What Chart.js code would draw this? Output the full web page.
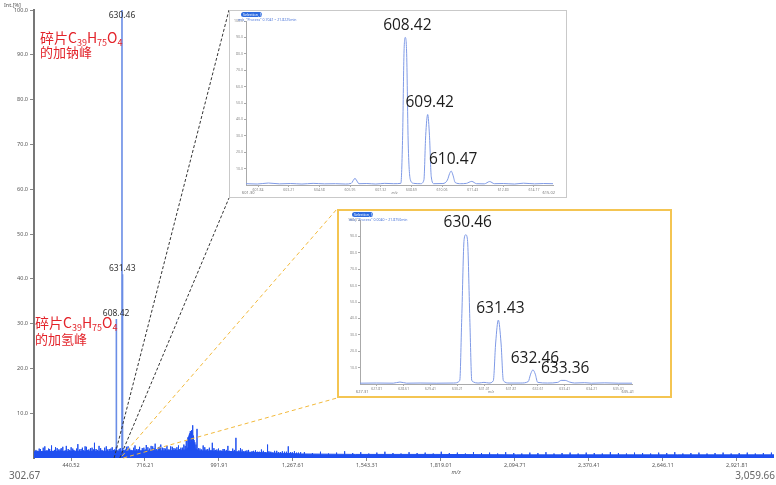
<!DOCTYPE html>
<html>
<head>
<meta charset="utf-8">
<script src="https://cdn.jsdelivr.net/npm/chart.js@4.4.1/dist/chart.umd.min.js"></script>
<style>
html, body { margin: 0; padding: 0; background: #fff; }
#wrap { position: relative; width: 776px; height: 485px; overflow: hidden; }
#main { position: absolute; left: 0; top: 0; }
.inset { position: absolute; box-sizing: border-box; background: #fff; }
.inset canvas { display: block; }
</style>
</head>
<body>
<div id="wrap">
  <canvas id="main" width="776" height="485"></canvas>
  <div class="inset" id="box1"><canvas id="ins1"></canvas></div>
  <div class="inset" id="box2"><canvas id="ins2"></canvas></div>
</div>
<script>
// ---- main spectrum ----
const mzRange = [302.67, 3059.66];
const mainXTicks = [440.52, 716.21, 991.91, 1267.61, 1543.31, 1819.01, 2094.71, 2370.41, 2646.11, 2921.81];
const mainYTicks = [10, 20, 30, 40, 50, 60, 70, 80, 90, 100];

const peakMz = [608.42, 609.42, 610.47, 630.46, 631.43, 632.46, 633.36];
const peakInt = [31, 14, 2.6, 100, 41, 8.5, 2];
const peakLabels = ["630.46", "631.43", "608.42"];
const peakLabelInt = [100, 41, 31];

// background noise
const baseMz = [302.67, 400, 500, 600, 700, 800, 870, 880, 888, 896, 903, 920, 1000, 1100, 1200, 1300, 1500, 1800, 2100, 2400, 2700, 3059.66];
const baseInt = [1.4, 1.5, 1.5, 1.5, 1.6, 1.6, 1.8, 2.6, 3.6, 3.8, 2.0, 1.6, 1.5, 1.3, 1.1, 0.9, 0.8, 0.8, 0.7, 0.7, 0.7, 0.7];

const noiseMz = [
  310, 322, 331, 343, 352, 361, 374, 383, 395, 404, 415, 423, 436, 447, 455, 466, 478, 487, 498, 507,
  519, 528, 539, 551, 560, 572, 583, 594, 603, 615, 624, 638, 647, 659, 668, 679, 691, 700, 712, 721,
  733, 745, 754, 766, 775, 787, 798, 806, 818, 829, 841, 850, 861, 870, 876, 881, 885, 888, 891, 894,
  897, 902, 910, 921, 933, 944, 956, 967, 978, 990, 1001, 1012, 1025, 1037, 1049, 1060, 1072, 1084, 1096, 1108,
  1121, 1135, 1150, 1164, 1178, 1192, 1207, 1221, 1236, 1250, 1265, 1281, 1296,
  1310, 1340, 1370, 1400, 1430, 1460, 1490, 1520, 1550, 1580, 1610, 1640, 1670, 1700, 1730, 1760, 1790, 1820, 1850, 1880,
  1910, 1940, 1970, 2000, 2030, 2060, 2090, 2120, 2150, 2180, 2210, 2240, 2270, 2300, 2330, 2360, 2390, 2420, 2450, 2480,
  2510, 2540, 2570, 2600, 2630, 2660, 2690, 2720, 2750, 2780, 2810, 2840, 2870, 2900, 2930, 2960, 2990, 3020, 3050
];
const noiseInt = [
  1.8, 2.1, 1.5, 2.6, 1.7, 2.0, 1.6, 2.4, 1.9, 2.2, 1.5, 2.7, 1.8, 2.1, 1.6, 3.1, 2.0, 1.7, 2.5, 1.9,
  2.3, 3.4, 1.8, 2.2, 1.6, 2.6, 2.0, 2.4, 1.9, 1.7, 2.2, 1.8, 2.5, 2.1, 1.7, 2.8, 2.0, 1.6, 2.3, 2.9,
  2.1, 2.6, 3.2, 2.4, 3.0, 2.2, 2.7, 1.9, 2.5, 2.1, 2.8, 2.3, 3.0, 3.8, 4.6, 5.2, 6.0, 5.4, 6.2, 7.3,
  5.0, 3.5, 6.5, 2.1, 2.8, 1.9, 2.3, 3.4, 1.8, 2.1, 1.6, 2.0, 2.7, 1.5, 1.8, 1.4, 2.2, 1.5, 1.7, 1.3,
  1.6, 1.4, 1.9, 1.3, 1.5, 1.2, 1.6, 1.3, 1.4, 2.6, 1.3, 1.2, 1.3,
  1.3, 1.1, 1.4, 1.0, 1.2, 1.5, 1.1, 1.3, 1.0, 1.2, 1.4, 1.1, 1.0, 1.3, 1.1, 1.2, 1.0, 1.4, 1.1, 1.2,
  1.0, 1.3, 1.1, 1.2, 1.0, 1.3, 1.1, 1.0, 1.2, 1.1, 1.3, 1.0, 1.1, 1.2, 1.0, 1.2, 1.1, 1.0, 1.3, 1.1,
  1.0, 1.2, 1.1, 1.0, 1.2, 1.1, 1.3, 1.0, 1.1, 1.2, 1.0, 1.1, 1.2, 1.0, 1.1, 1.2, 1.0, 1.1, 1.2
];
// second, interleaved set of noise sticks in the busy low-mass region
const noise2Mz = [
  316, 327, 337, 348, 357, 368, 379, 389, 400, 410, 419, 430, 441, 451, 461, 472, 483, 493, 503, 513,
  524, 534, 545, 556, 566, 577, 589, 599, 609, 620, 633, 643, 653, 664, 674, 685, 696, 706, 717, 727,
  739, 750, 760, 770, 781, 792, 802, 812, 824, 835, 846, 856, 866, 879, 883, 899, 906, 916, 927, 939,
  950, 962, 973, 984, 996, 1007, 1019, 1031, 1043, 1055, 1066, 1078, 1090, 1102, 1115, 1128, 1142, 1157, 1171, 1174,
  1185, 1199, 1214, 1228, 1243, 1258, 1273, 1288
];
const noise2Int = [
  1.6, 2.0, 2.3, 1.7, 2.1, 2.8, 1.8, 2.2, 1.9, 2.5, 1.7, 2.0, 2.4, 1.8, 2.1, 1.9, 2.3, 2.6, 1.8, 2.2,
  1.9, 2.0, 2.7, 1.8, 2.3, 1.9, 2.1, 1.8, 2.4, 2.0, 2.2, 1.9, 2.6, 1.8, 2.3, 2.0, 2.5, 2.2, 1.9, 2.4,
  2.7, 2.2, 2.0, 2.5, 2.3, 2.1, 1.9, 2.6, 2.2, 2.4, 2.0, 2.3, 2.7, 4.8, 5.5, 4.0, 3.0, 2.2, 1.9, 2.4,
  2.0, 1.8, 2.2, 1.9, 1.7, 2.0, 1.8, 1.6, 2.1, 4.5, 1.7, 1.9, 1.6, 1.8, 1.5, 1.7, 1.4, 1.6, 3.0, 1.5,
  1.4, 1.6, 1.3, 1.5, 1.4, 1.3, 1.5, 1.2
];

// ---- zoom insets ----
const inset1Range = [601.30, 615.02];
const inset1XTicks = [601.84, 603.21, 604.58, 605.95, 607.32, 608.69, 610.06, 611.43, 612.80, 614.17];
const inset1Mz = [601.30, 601.8, 602.3, 602.8, 603.3, 603.8, 604.3, 604.8, 605.3, 605.75, 606.0, 606.17, 606.35, 606.7, 607.1, 607.5, 607.9, 608.22,
  608.3, 608.36, 608.42, 608.48, 608.55, 608.65, 608.8, 609.1, 609.25, 609.33, 609.42, 609.5, 609.58, 609.7, 610.1, 610.3, 610.4, 610.47,
  610.55, 610.65, 610.9, 611.15, 611.39, 611.6, 611.95, 612.19, 612.4, 612.8, 613.3, 613.7, 614.2, 614.6, 615.02];
const inset1Int = [0.8, 0.6, 1.2, 0.7, 0.9, 0.6, 1.0, 0.7, 0.8, 0.6, 1.0, 4.0, 0.8, 0.9, 0.6, 1.0, 0.8, 1.0,
  30, 80, 90, 80, 25, 3, 1.0, 0.8, 3, 30, 43, 30, 5, 0.8, 0.9, 3, 7, 8.5,
  6, 1.5, 0.8, 1.0, 2.2, 0.8, 0.7, 2.1, 0.8, 0.9, 0.6, 1.1, 0.7, 0.9, 0.8];
const inset1Labels = ["608.42", "609.42", "610.47"];
const inset1LabelInt = [90, 43, 8.5];

const inset2Range = [627.31, 635.41];
const inset2XTicks = [627.81, 628.61, 629.41, 630.21, 631.01, 631.81, 632.61, 633.41, 634.21, 635.01];
const inset2Mz = [627.31, 627.8, 628.3, 628.5, 628.7, 629.1, 629.6, 630.1, 630.28, 630.34, 630.41, 630.46, 630.51, 630.58, 630.64,
  630.85, 631.0, 631.15, 631.28, 631.35, 631.43, 631.51, 631.58, 631.75, 632.1, 632.32, 632.39, 632.46, 632.53, 632.6, 632.9,
  633.2, 633.3, 633.42, 633.55, 633.7, 634.0, 634.2, 634.6, 635.0, 635.41];
const inset2Int = [0.5, 0.6, 0.5, 1.2, 0.5, 0.6, 0.5, 0.6, 2, 40, 88, 91, 88, 40, 2,
  0.6, 1.0, 0.6, 2, 25, 39, 25, 2, 0.6, 0.6, 1.5, 6, 8.6, 6, 1, 0.6,
  1.0, 2.2, 2.2, 1.2, 0.6, 0.8, 0.5, 0.7, 0.5, 0.5];
const inset2Labels = ["630.46", "631.43", "632.46", "633.36"];
const inset2LabelInt = [91, 39, 8.6, 2.2];

const insetYTicks = [10, 20, 30, 40, 50, 60, 70, 80, 90, 100];

// layout of the two inset boxes on the page
const BOX1 = { x: 229, y: 10, w: 338, h: 188, bw: 1, color: "#c9c9c9" };
const BOX2 = { x: 337, y: 209, w: 335, h: 189, bw: 2, color: "#f4c552" };

Chart.defaults.font.family = "'Noto Sans', 'Open Sans', sans-serif";

function sticks(mz, inten) {
  return mz.flatMap((m, i) => [{ x: m, y: 0 }, { x: m, y: inten[i] }, { x: m, y: 0 }]);
}

function fmt2(v) {
  return Number(v).toLocaleString("en-US", { minimumFractionDigits: 2, maximumFractionDigits: 2 });
}

function drawFormula(ctx, x, y, parts) {
  // parts: [text, isSubscript]
  let cx = x;
  parts.forEach(([t, sub]) => {
    ctx.font = sub ? "9px 'Noto Sans CJK SC'" : "14px 'Noto Sans CJK SC'";
    ctx.fillText(t, cx, sub ? y + 3 : y);
    cx += ctx.measureText(t).width;
  });
}

const formulaParts = [["碎片C", 0], ["39", 1], ["H", 0], ["75", 1], ["O", 0], ["4", 1]];

const mainDecor = {
  id: "mainDecor",
  afterDraw(chart) {
    const { ctx, chartArea: a, scales: { x, y } } = chart;
    ctx.save();

    // connector lines to the zoom boxes
    ctx.lineWidth = 1;
    ctx.setLineDash([3, 2]);
    ctx.strokeStyle = "#333";
    ctx.beginPath();
    ctx.moveTo(x.getPixelForValue(inset1Range[0]), a.bottom);
    ctx.lineTo(BOX1.x, BOX1.y);
    ctx.moveTo(x.getPixelForValue(inset1Range[1]) + 2, a.bottom);
    ctx.lineTo(BOX1.x, BOX1.y + BOX1.h);
    ctx.stroke();
    ctx.strokeStyle = "#f2b93b";
    ctx.setLineDash([4, 3]);
    ctx.beginPath();
    ctx.moveTo(x.getPixelForValue(inset2Range[0]) + 1, a.bottom - 2);
    ctx.lineTo(BOX2.x, BOX2.y);
    ctx.moveTo(x.getPixelForValue(inset2Range[1]), a.bottom);
    ctx.lineTo(BOX2.x, BOX2.y + BOX2.h);
    ctx.stroke();
    ctx.setLineDash([]);

    // peak labels
    ctx.fillStyle = "#333";
    ctx.font = "8.5px 'Noto Sans', sans-serif";
    ctx.textAlign = "center";
    ctx.textBaseline = "middle";
    peakLabels.forEach((t, i) => {
      const px = x.getPixelForValue(parseFloat(t));
      let py = y.getPixelForValue(peakLabelInt[i]) - 6;
      if (py < a.top + 4) py = a.top + 6;
      ctx.fillText(t, px, py);
    });

    // red annotations
    ctx.fillStyle = "#e3242b";
    ctx.textAlign = "left";
    ctx.textBaseline = "alphabetic";
    drawFormula(ctx, 40, 43, formulaParts);
    ctx.font = "13px 'Noto Sans CJK SC'";
    ctx.fillText("的加钠峰", 40, 57);
    drawFormula(ctx, 35, 328, formulaParts);
    ctx.font = "13px 'Noto Sans CJK SC'";
    ctx.fillText("的加氢峰", 35, 344);

    // axis captions
    ctx.fillStyle = "#555";
    ctx.font = "5.5px 'Noto Sans', sans-serif";
    ctx.textBaseline = "middle";
    ctx.fillText("Int.[%]", 4, 5);
    ctx.font = "italic 5.5px 'Noto Sans', sans-serif";
    ctx.textAlign = "center";
    ctx.fillText("m/z", 456, 472);
    ctx.font = "10px 'Noto Sans', sans-serif";
    ctx.fillStyle = "#666";
    ctx.textAlign = "left";
    ctx.fillText(fmt2(mzRange[0]), 9, 476);
    ctx.textAlign = "right";
    ctx.fillText(fmt2(mzRange[1]), 775, 476);
    ctx.restore();
  }
};

new Chart(document.getElementById("main"), {
  type: "line",
  data: {
    datasets: [
      {
        data: baseMz.map((m, i) => ({ x: m, y: baseInt[i] })),
        borderColor: "#1f4ff0", backgroundColor: "#1f4ff0", borderWidth: 1, fill: "origin"
      },
      { data: sticks(noiseMz, noiseInt), borderColor: "#1f4ff0", borderWidth: 1 },
      { data: sticks(noise2Mz, noise2Int), borderColor: "#1f4ff0", borderWidth: 1 },
      { data: sticks(peakMz, peakInt), borderColor: "#6a8de6", borderWidth: 1.6 }
    ]
  },
  options: {
    responsive: false,
    animation: false,
    events: [],
    layout: { padding: { top: 10, right: 2, left: 0, bottom: 0 } },
    elements: { point: { radius: 0 }, line: { tension: 0 } },
    plugins: { legend: { display: false }, tooltip: { enabled: false } },
    scales: {
      x: {
        type: "linear", min: mzRange[0], max: mzRange[1],
        afterBuildTicks: s => { s.ticks = mainXTicks.map(v => ({ value: v })); },
        afterFit: s => { s.height = 27; },
        ticks: { font: { size: 5.5 }, color: "#555", padding: 1, maxRotation: 0, autoSkip: false, callback: v => fmt2(v) },
        grid: { drawOnChartArea: false, tickLength: 3, color: "#888" },
        border: { display: false }
      },
      y: {
        min: 0, max: 100,
        afterBuildTicks: s => { s.ticks = mainYTicks.map(v => ({ value: v })); },
        afterFit: s => { s.width = 34; },
        ticks: { font: { size: 5.5 }, color: "#555", padding: 2, callback: v => v.toFixed(1) },
        grid: { drawOnChartArea: false, tickLength: 4, color: "#888" },
        border: { display: true, color: "#777", width: 2 }
      }
    }
  },
  plugins: [mainDecor]
});

// ---- insets ----
const insetDecor = {
  id: "insetDecor",
  afterDraw(chart, args, o) {
    const { ctx, chartArea: a, scales: { x, y } } = chart;
    ctx.save();
    // header pill and info line
    ctx.fillStyle = "#2d6be0";
    ctx.beginPath();
    ctx.roundRect(o.pillX, 1, 21, 5, 2.5);
    ctx.fill();
    ctx.fillStyle = "#fff";
    ctx.font = "3.5px 'Noto Sans', sans-serif";
    ctx.textBaseline = "middle";
    ctx.fillText("Selection, 552", o.pillX + 2, 3.6);
    ctx.fillStyle = "#4a74d8";
    ctx.fillText(o.info, o.pillX - 3, 8.5);
    // peak labels
    ctx.fillStyle = "#1c1c1c";
    ctx.font = "15.5px 'Open Sans', sans-serif";
    ctx.textAlign = "center";
    ctx.textBaseline = "bottom";
    o.labels.forEach((t, i) => {
      ctx.fillText(t, x.getPixelForValue(parseFloat(t)) + 2, y.getPixelForValue(o.labelInt[i]) - 4);
    });
    // range labels
    ctx.fillStyle = "#777";
    ctx.font = "4px 'Noto Sans', sans-serif";
    ctx.textBaseline = "middle";
    ctx.textAlign = "left";
    ctx.fillText(o.range[0].toFixed(2), a.left - 4, a.bottom + 8);
    ctx.textAlign = "right";
    ctx.fillText(o.range[1].toFixed(2), a.right + 2, a.bottom + 8);
    ctx.textAlign = "center";
    ctx.font = "italic 3.5px 'Noto Sans', sans-serif";
    ctx.fillText("m/z", (a.left + a.right) / 2 - 5, a.bottom + 8);
    ctx.restore();
  }
};

function makeInset(canvasId, boxId, box, pad, mz, inten, range, xTicks, labels, labelInt, info) {
  const div = document.getElementById(boxId);
  Object.assign(div.style, {
    left: box.x + "px", top: box.y + "px", width: box.w + "px", height: box.h + "px",
    border: box.bw + "px solid " + box.color
  });
  const cv = document.getElementById(canvasId);
  cv.width = box.w - 2 * box.bw;
  cv.height = box.h - 2 * box.bw;
  return new Chart(cv, {
    type: "line",
    data: {
      datasets: [{
        data: mz.map((m, i) => ({ x: m, y: inten[i] })),
        borderColor: "#7f9ae6", borderWidth: 1, pointRadius: 0,
        cubicInterpolationMode: "monotone", fill: false
      }]
    },
    options: {
      responsive: false,
      animation: false,
      events: [],
      layout: { padding: { top: pad.top, right: pad.right, left: 0, bottom: 0 } },
      plugins: {
        legend: { display: false }, tooltip: { enabled: false },
        insetDecor: { labels, labelInt, range, info, pillX: pad.pillX }
      },
      scales: {
        x: {
          type: "linear", min: range[0], max: range[1],
          afterBuildTicks: s => { s.ticks = xTicks.map(v => ({ value: v })); },
          afterFit: s => { s.height = pad.bottom; },
          ticks: { font: { size: 3.5 }, color: "#888", padding: 0.5, maxRotation: 0, autoSkip: false, callback: v => v.toFixed(2) },
          grid: { drawOnChartArea: false, tickLength: 2, color: "#aaa" },
          border: { color: "#aaa" }
        },
        y: {
          min: 0, max: 100,
          afterBuildTicks: s => { s.ticks = insetYTicks.map(v => ({ value: v })); },
          afterFit: s => { s.width = pad.left; },
          ticks: { font: { size: 3.5 }, color: "#888", padding: 1, callback: v => v.toFixed(1) },
          grid: { drawOnChartArea: false, tickLength: 2, color: "#aaa" },
          border: { color: "#aaa" }
        }
      }
    },
    plugins: [insetDecor]
  });
}

makeInset("ins1", "box1", BOX1, { left: 16, right: 13, top: 10, bottom: 12, pillX: 11 },
  inset1Mz, inset1Int, inset1Range, inset1XTicks, inset1Labels, inset1LabelInt,
  "m/z, \"Process\" 0.7041 ~ 21.8225min");
makeInset("ins2", "box2", BOX2, { left: 21, right: 38, top: 9, bottom: 12, pillX: 13 },
  inset2Mz, inset2Int, inset2Range, inset2XTicks, inset2Labels, inset2LabelInt,
  "m/z, \"Process\" 0.0040 ~ 21.8750min");
</script>
</body>
</html>
